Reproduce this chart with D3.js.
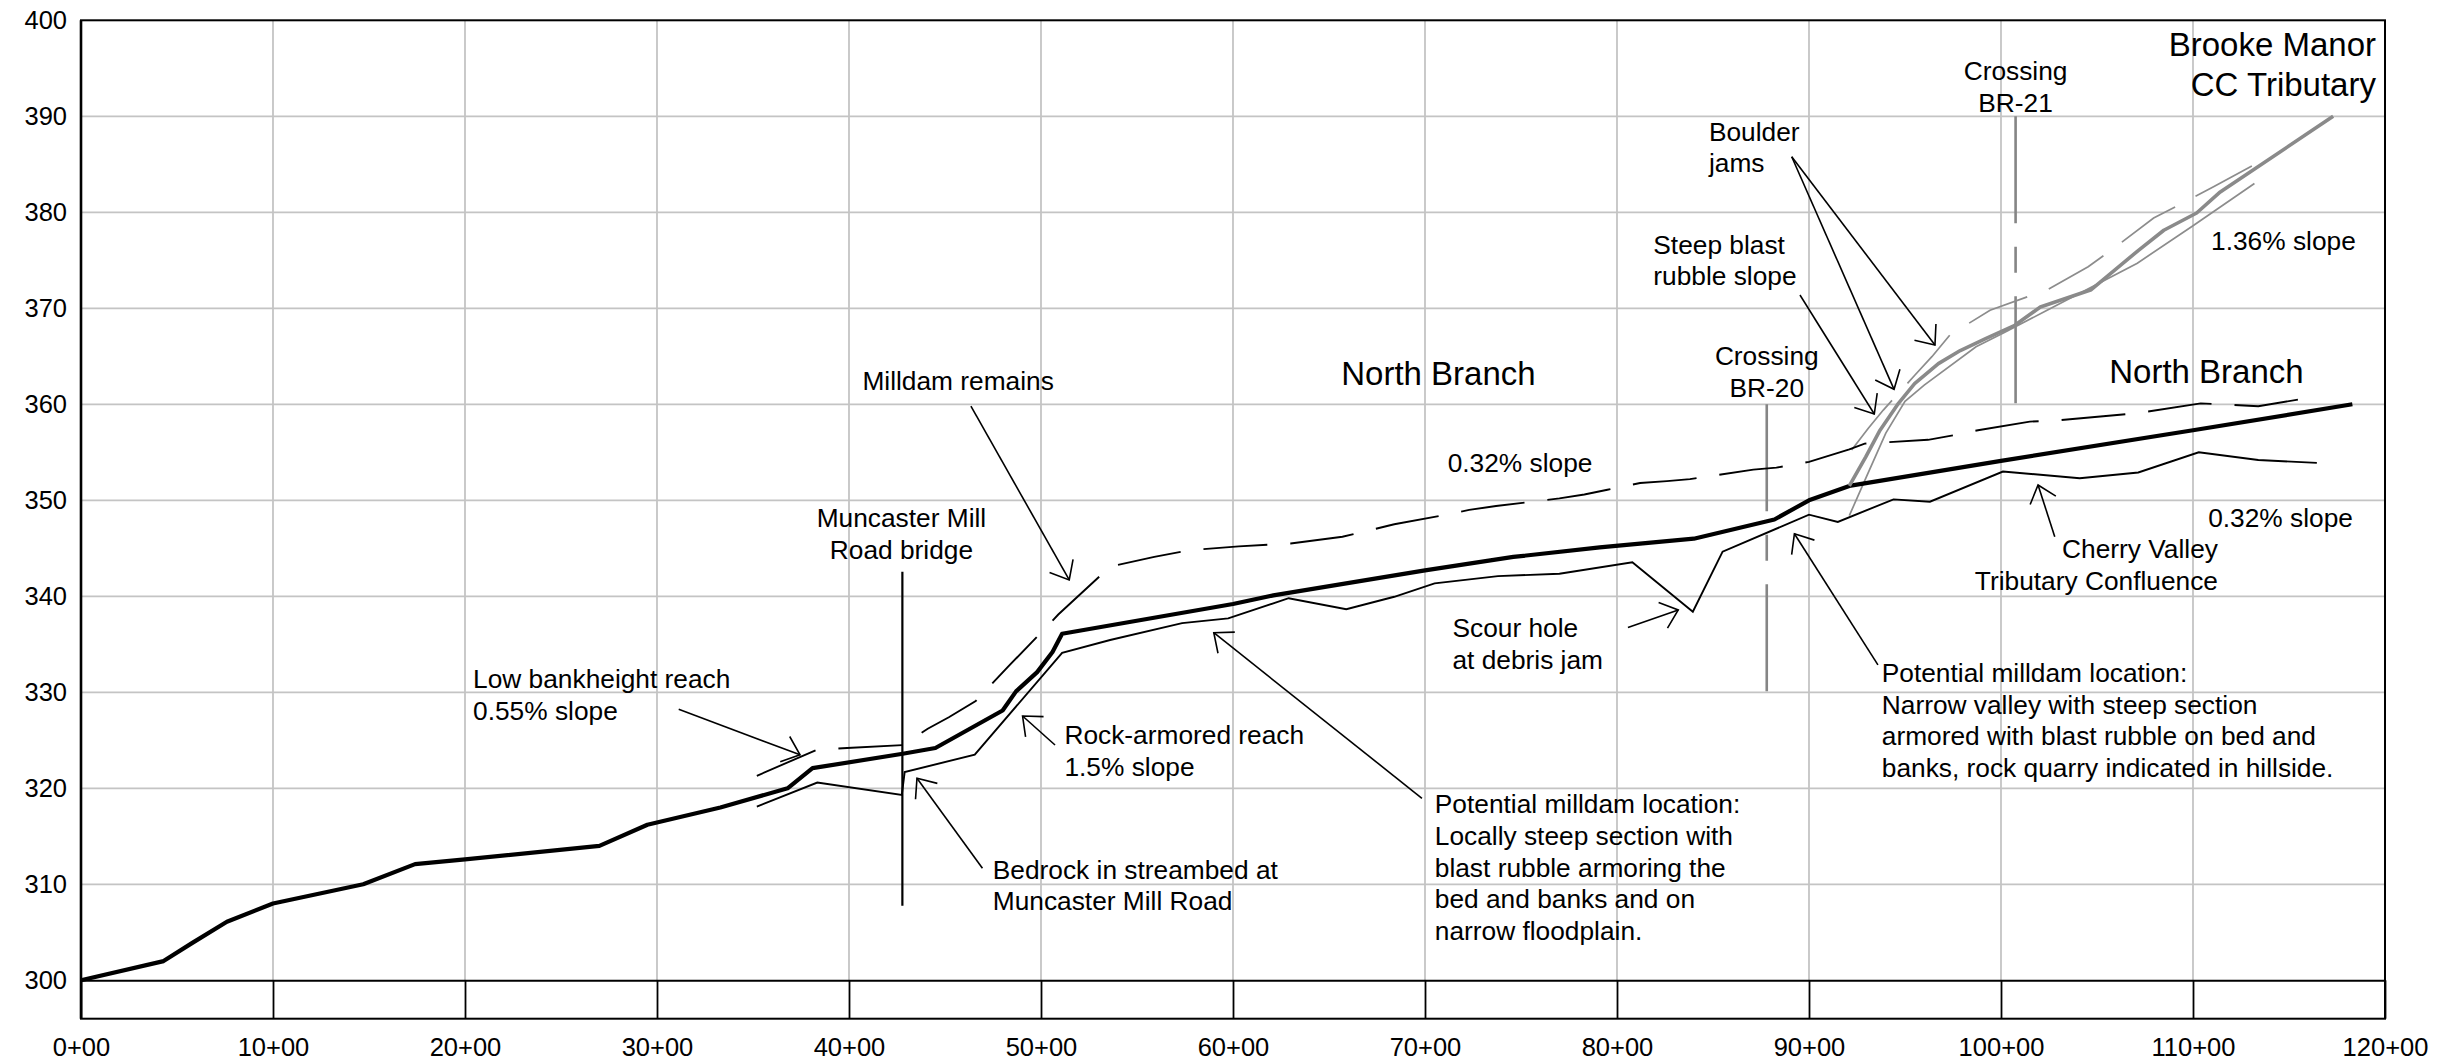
<!DOCTYPE html>
<html>
<head>
<meta charset="utf-8">
<script src="https://cdn.jsdelivr.net/npm/d3@7"></script>
<style>
  html, body { margin: 0; padding: 0; background: #fff; }
  svg { display: block; font-family: "Liberation Sans", Arial, Helvetica, sans-serif; }
</style>
</head>
<body>
<svg id="chart" width="2446" height="1063"></svg>
<script>
// ---- Profile data: station (x 100 ft) and elevation (ft) ----

// North Branch channel bed (heavy black)
const bedStation = [0, 4.3, 5.8, 7.6, 10, 14.7, 17.4, 20, 27, 29.5, 33.3, 36.8, 38.1, 42.8, 44.5, 48.0, 48.7, 49.8, 50.6, 51.1, 60.0, 62.1, 70.0, 74.6, 79.1, 84.0, 88.2, 90.0, 92.1, 100, 110, 118.3];
const bedElev    = [300, 302, 303.9, 306.1, 308, 310, 312.1, 312.6, 314, 316.2, 318, 320, 322.1, 323.6, 324.2, 328.1, 330.1, 332.1, 334.2, 336.1, 339.2, 340.1, 342.7, 344.1, 345.1, 346.0, 348.0, 350.0, 351.5, 354.1, 357.3, 360];

// North Branch low bank (thin black)
const lowBankStation = [35.2, 38.35, 42.75, 42.9, 46.55, 51.1, 53.6, 57.35, 59.75, 62.9, 65.9, 68.4, 70.5, 73.8, 77.0, 80.8, 83.95, 85.5, 90.0, 91.5, 94.4, 96.3, 100.1, 104.1, 107.15, 110.3, 113.4, 116.45];
const lowBankElev    = [318.1, 320.6, 319.3, 321.7, 323.5, 334.1, 335.45, 337.2, 337.7, 339.8, 338.65, 339.95, 341.35, 342.1, 342.35, 343.55, 338.4, 344.65, 348.5, 347.75, 350.1, 349.85, 353.0, 352.3, 352.9, 355.0, 354.2, 353.9];

// North Branch high bank (dashed black)
const highBankStation = [35.2, 38.3, 39.9, 42.8, 44.1, 45.2, 46.6, 47.4, 48.3, 50.0, 50.9, 53.6, 55.9, 57.7, 60.3, 63.0, 65.7, 68.4, 71.1, 72.3, 73.7, 77.0, 78.3, 79.5, 81.2, 82.6, 83.8, 87.1, 88.3, 90.0, 92.1, 92.9, 96.2, 97.6, 98.8, 101.5, 102.8, 107.2, 110.4, 113.4, 116.4];
const highBankElev    = [321.3, 324.0, 324.2, 324.5, 326.2, 327.4, 329.1, 330.8, 332.7, 336.2, 338.1, 343.1, 344.1, 344.8, 345.2, 345.5, 346.2, 347.5, 348.5, 349.0, 349.4, 350.2, 350.6, 351.1, 351.8, 352.0, 352.2, 353.2, 353.4, 354.0, 355.3, 355.9, 356.3, 356.8, 357.3, 358.2, 358.3, 359.1, 360.1, 359.8, 360.8];

// Brooke Manor CC Tributary bed (heavy grey)
const tribBedStation = [92.1, 92.95, 93.7, 94.66, 95.5, 96.74, 97.88, 99.2, 100.72, 102.05, 104.7, 107.16, 108.48, 110.19, 111.42, 117.3];
const tribBedElev    = [351.5, 354.5, 357.3, 360.1, 362.15, 364.24, 365.6, 366.84, 368.23, 370.14, 371.94, 376.04, 378.13, 379.93, 382.12, 390.0];

// Tributary low bank (thin grey)
const tribLowStation = [92.1, 93.0, 94.0, 95.0, 96.0, 98.7, 100.2, 102.4, 107.1, 110.0, 113.2];
const tribLowElev    = [348.4, 352.5, 357.0, 360.3, 362.0, 366.0, 367.5, 369.8, 374.7, 378.6, 383.0];

// Tributary high bank (thin grey, dashed)
const tribHighStation = [92.22, 93.09, 93.87, 95.52, 96.4, 97.34, 99.43, 102.46, 104.54, 105.68, 107.95, 110.03, 111.07, 113.25];
const tribHighElev    = [355.24, 357.5, 359.4, 363.05, 364.96, 367.22, 369.8, 371.98, 374.33, 375.97, 379.4, 381.56, 382.67, 385.03];

// Road bridge and stream crossings: station, top and bottom elevation
const bridgeStation = [42.78];
const bridgeTop = [342.56];
const bridgeBottom = [307.76];
const crossingStation = [87.8, 100.76];
const crossingTop = [360, 390];
const crossingBottom = [330, 360];

// Axis ticks
const xTicks = [0, 10, 20, 30, 40, 50, 60, 70, 80, 90, 100, 110, 120];
const xTickLabels = xTicks.map(d => d + "+00");
const yTicks = [300, 310, 320, 330, 340, 350, 360, 370, 380, 390, 400];

// Annotation text (lines, anchor point in station/elevation units)
const notes = [
  { lines: ["Brooke Manor", "CC Tributary"], x: 119.53, y: [396.30, 392.11], anchor: "end", size: 33 },
  { lines: ["Crossing", "BR-21"], x: 100.76, y: [393.73, 390.45], anchor: "middle" },
  { lines: ["Boulder", "jams"], x: 84.79, y: [387.46, 384.18], anchor: "start" },
  { lines: ["Steep blast", "rubble slope"], x: 81.89, y: [375.66, 372.38], anchor: "start" },
  { lines: ["1.36% slope"], x: 110.94, y: [376.07], anchor: "start" },
  { lines: ["Crossing", "BR-20"], x: 87.8, y: [364.09, 360.79], anchor: "middle" },
  { lines: ["North Branch"], x: 110.70, y: [362.19], anchor: "middle", size: 33 },
  { lines: ["North Branch"], x: 70.70, y: [362.01], anchor: "middle", size: 33 },
  { lines: ["Milldam remains"], x: 40.70, y: [361.54], anchor: "start" },
  { lines: ["0.32% slope"], x: 71.18, y: [352.98], anchor: "start" },
  { lines: ["0.32% slope"], x: 110.79, y: [347.19], anchor: "start" },
  { lines: ["Muncaster Mill", "Road bridge"], x: 42.73, y: [347.19, 343.92], anchor: "middle" },
  { lines: ["Cherry Valley", "Tributary Confluence"], x: 111.30, y: [343.96, 340.66], anchor: "end" },
  { lines: ["Scour hole", "at debris jam"], x: 71.43, y: [335.76, 332.46], anchor: "start" },
  { lines: ["Potential milldam location:", "Narrow valley with steep section", "armored with blast rubble on bed and", "banks, rock quarry indicated in hillside."], x: 93.79, y: [331.07, 327.77, 324.47, 321.16], anchor: "start" },
  { lines: ["Low bankheight reach", "0.55% slope"], x: 20.42, y: [330.45, 327.15], anchor: "start" },
  { lines: ["Rock-armored reach", "1.5% slope"], x: 51.22, y: [324.61, 321.31], anchor: "start" },
  { lines: ["Potential milldam location:", "Locally steep section with", "blast rubble armoring the", "bed and banks and on", "narrow floodplain."], x: 70.51, y: [317.38, 314.08, 310.78, 307.48, 304.18], anchor: "start" },
  { lines: ["Bedrock in streambed at", "Muncaster Mill Road"], x: 47.49, y: [310.60, 307.30], anchor: "start" }
];

// Leader arrows: [fromStation, fromElev, tipStation, tipElev]
const arrows = [
  [31.13, 328.23, 37.45, 323.49],
  [46.35, 359.82, 51.47, 341.70],
  [50.73, 324.51, 49.04, 327.53],
  [46.95, 311.67, 43.54, 321.04],
  [69.84, 318.96, 59.00, 336.21],
  [80.57, 336.75, 83.19, 338.57],
  [93.59, 332.86, 89.24, 346.51],
  [102.80, 346.21, 101.93, 351.59],
  [89.10, 385.79, 96.56, 366.18],
  [89.10, 385.79, 94.43, 361.56],
  [89.53, 371.39, 93.40, 358.99]
];

(function drawProfile() {
  const svg = d3.select("#chart");
  const plotLeft = 81, plotRight = 2385, plotTop = 20.3, plotBottom = 1018.7;
  const x = d3.scaleLinear().domain([0, 120]).range([plotLeft, plotRight]);
  const y = d3.scaleLinear().domain([296, 400]).range([plotBottom, plotTop]);

  const zip = (a, b) => a.map((v, i) => [v, b[i]]);
  const line = d3.line().x(d => x(d[0])).y(d => y(d[1]));

  // Gridlines
  const grid = svg.append("g").attr("stroke", "#c4c4c4").attr("stroke-width", 1.8);
  grid.selectAll("line.h").data(yTicks.filter(v => v > 300 && v < 400)).enter().append("line")
    .attr("class", "h")
    .attr("x1", plotLeft).attr("x2", plotRight).attr("y1", d => y(d)).attr("y2", d => y(d));
  grid.selectAll("line.v").data(xTicks.filter(v => v > 0 && v < 120)).enter().append("line")
    .attr("class", "v")
    .attr("x1", d => x(d)).attr("x2", d => x(d)).attr("y1", y(300)).attr("y2", y(400));

  // X axis along the 300 ft line, ticks running down to the frame
  const xAxis = d3.axisBottom(x)
    .tickValues(xTicks)
    .tickFormat((d, i) => xTickLabels[i])
    .tickSizeInner(y(296) - y(300))
    .tickSizeOuter(0)
    .tickPadding(19);
  const gx = svg.append("g").attr("transform", `translate(0,${y(300)})`).call(xAxis);
  gx.select(".domain").attr("stroke", "#000").attr("stroke-width", 2);
  gx.selectAll(".tick line").attr("stroke", "#000").attr("stroke-width", 1.8);
  gx.selectAll(".tick text").attr("font-size", 25.5).attr("fill", "#000")
    .attr("font-family", "Liberation Sans, Arial, sans-serif");

  // Y axis labels
  const yAxis = d3.axisLeft(y).tickValues(yTicks).tickSize(0).tickPadding(14);
  const gy = svg.append("g").attr("transform", `translate(${plotLeft},0)`).call(yAxis);
  gy.select(".domain").remove();
  gy.selectAll(".tick text").attr("font-size", 25.5).attr("fill", "#000")
    .attr("font-family", "Liberation Sans, Arial, sans-serif");

  // Plot frame
  svg.append("rect").attr("x", plotLeft).attr("y", plotTop)
    .attr("width", plotRight - plotLeft).attr("height", plotBottom - plotTop)
    .attr("fill", "none").attr("stroke", "#000").attr("stroke-width", 2);
  svg.append("line").attr("x1", plotLeft).attr("x2", plotLeft).attr("y1", plotTop).attr("y2", plotBottom)
    .attr("stroke", "#000").attr("stroke-width", 2.6);

  // Crossing markers (grey, long dash / short dash)
  crossingStation.forEach((s, i) => {
    svg.append("line")
      .attr("x1", x(s)).attr("x2", x(s))
      .attr("y1", y(crossingTop[i])).attr("y2", y(crossingBottom[i]))
      .attr("stroke", "#858585").attr("stroke-width", 2.6)
      .attr("stroke-dasharray", "107,23.5,26,23.5");
  });

  // Road bridge marker
  bridgeStation.forEach((s, i) => {
    svg.append("line")
      .attr("x1", x(s)).attr("x2", x(s))
      .attr("y1", y(bridgeTop[i])).attr("y2", y(bridgeBottom[i]))
      .attr("stroke", "#000").attr("stroke-width", 2.2);
  });

  // Tributary bank lines
  svg.append("path").datum(zip(tribLowStation, tribLowElev)).attr("d", line)
    .attr("fill", "none").attr("stroke", "#8c8c8c").attr("stroke-width", 1.7);
  svg.append("path").datum(zip(tribHighStation, tribHighElev)).attr("d", line)
    .attr("fill", "none").attr("stroke", "#8c8c8c").attr("stroke-width", 1.7)
    .attr("stroke-dasharray", "64,23");

  // North Branch profile lines
  svg.append("path").datum(zip(highBankStation, highBankElev)).attr("d", line)
    .attr("fill", "none").attr("stroke", "#000").attr("stroke-width", 1.9)
    .attr("stroke-dasharray", "64,23");
  svg.append("path").datum(zip(lowBankStation, lowBankElev)).attr("d", line)
    .attr("fill", "none").attr("stroke", "#000").attr("stroke-width", 1.9);
  svg.append("path").datum(zip(bedStation, bedElev)).attr("d", line)
    .attr("fill", "none").attr("stroke", "#000").attr("stroke-width", 4.2)
    .attr("stroke-linejoin", "round");
  svg.append("path").datum(zip(tribBedStation, tribBedElev)).attr("d", line)
    .attr("fill", "none").attr("stroke", "#8a8a8a").attr("stroke-width", 3.6)
    .attr("stroke-linejoin", "round");

  // Leader arrows with open heads
  const ag = svg.append("g").attr("stroke", "#000").attr("stroke-width", 1.6).attr("fill", "none");
  arrows.forEach(a => {
    const x1 = x(a[0]), y1 = y(a[1]), x2 = x(a[2]), y2 = y(a[3]);
    const ang = Math.atan2(y1 - y2, x1 - x2);
    const len = 21, spread = 40 * Math.PI / 180;
    ag.append("line").attr("x1", x1).attr("y1", y1).attr("x2", x2).attr("y2", y2);
    ag.append("path").attr("d",
      `M${x2 + len * Math.cos(ang + spread)},${y2 + len * Math.sin(ang + spread)}` +
      `L${x2},${y2}` +
      `L${x2 + len * Math.cos(ang - spread)},${y2 + len * Math.sin(ang - spread)}`);
  });

  // Annotation text
  const tg = svg.append("g").attr("fill", "#000");
  notes.forEach(n => {
    n.lines.forEach((t, i) => {
      tg.append("text")
        .attr("x", x(n.x)).attr("y", y(n.y[i]))
        .attr("text-anchor", n.anchor)
        .attr("font-size", n.size || 26.3)
        .text(t);
    });
  });
})();
</script>
</body>
</html>
